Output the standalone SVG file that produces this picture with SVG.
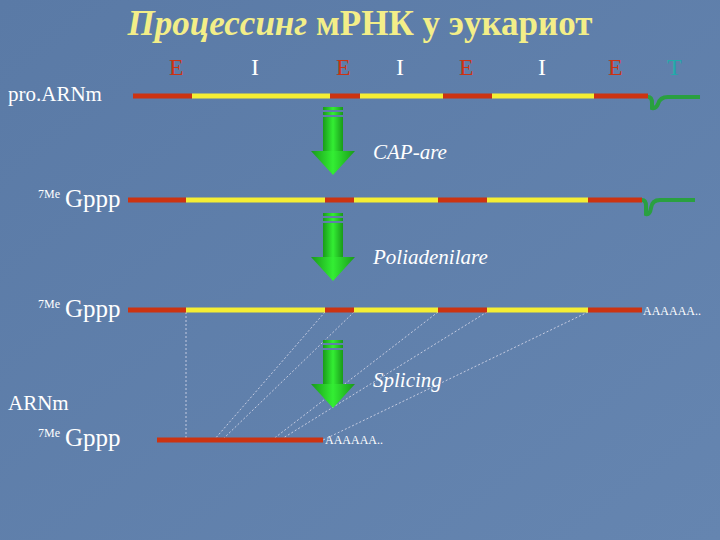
<svg xmlns="http://www.w3.org/2000/svg" width="720" height="540" viewBox="0 0 720 540">
<defs>
<linearGradient id="bg" x1="0" y1="0" x2="1" y2="1"><stop offset="0" stop-color="#5a7aa6"/><stop offset="1" stop-color="#6585b0"/></linearGradient>
<linearGradient id="ag" x1="0" y1="0" x2="1" y2="0"><stop offset="0" stop-color="#1a9a1a"/><stop offset="0.5" stop-color="#33ee33"/><stop offset="1" stop-color="#1a9a1a"/></linearGradient>
<g id="arrow">
<rect x="-10" y="0" width="20" height="3" fill="url(#ag)"/>
<rect x="-10" y="5" width="20" height="3" fill="url(#ag)"/>
<rect x="-10" y="10" width="20" height="34" fill="url(#ag)"/>
<polygon points="-22,44 22,44 0,68" fill="url(#ag)"/>
</g>
</defs>
<style>
.r{stroke:#cc3311;stroke-width:5}
.y{stroke:#f5ee33;stroke-width:5}
.g{stroke:#2aa040;stroke-width:4;fill:none}
.t{font-family:"Liberation Serif",serif;fill:#fff}
.lbl{font-family:"Liberation Serif",serif;font-style:italic;fill:#fff;font-size:21px}
.d{stroke:#dde;stroke-width:0.8;stroke-dasharray:2,2}
</style>
<rect width="720" height="540" fill="url(#bg)"/>
<text x="360" y="35" text-anchor="middle" font-family="Liberation Serif,serif" font-size="35" font-weight="bold" fill="#f3ee88"><tspan font-style="italic">Процессинг </tspan>мРНК у эукариот</text>
<g id="labels" font-family="Liberation Serif,serif" font-size="24">
<text x="169" y="75" fill="#cc3311">E</text>
<text x="251" y="75" fill="#fff">I</text>
<text x="336" y="75" fill="#cc3311">E</text>
<text x="396" y="75" fill="#fff">I</text>
<text x="459" y="75" fill="#cc3311">E</text>
<text x="538" y="75" fill="#fff">I</text>
<text x="608" y="75" fill="#cc3311">E</text>
<text x="667" y="75" fill="#22aaaa">T</text>
</g>
<text class="t" x="8" y="101" font-size="21">pro.ARNm</text>
<text class="t" x="38" y="198" font-size="12">7Me</text><text class="t" x="65" y="207" font-size="25">Gppp</text>
<text class="t" x="38" y="308" font-size="12">7Me</text><text class="t" x="65" y="317" font-size="25">Gppp</text>
<text class="t" x="8" y="410" font-size="21">ARNm</text>
<text class="t" x="38" y="437" font-size="12">7Me</text><text class="t" x="65" y="446" font-size="25">Gppp</text>
<text class="t" x="643" y="315" font-size="12">AAAAAA..</text>
<text class="t" x="325" y="444" font-size="12">AAAAAA..</text>
<text class="lbl" x="373" y="159">CAP-are</text>
<text class="lbl" x="373" y="264">Poliadenilare</text>
<text class="lbl" x="373" y="387">Splicing</text>
<g id="connectors">
<line class="d" x1="186" y1="312" x2="186" y2="440"/>
<line class="d" x1="325" y1="312" x2="214" y2="440"/>
<line class="d" x1="354" y1="312" x2="222" y2="440"/>
<line class="d" x1="438" y1="312" x2="272" y2="440"/>
<line class="d" x1="487" y1="312" x2="280" y2="440"/>
<line class="d" x1="588" y1="312" x2="323" y2="440"/>
</g>
<g id="row1">
<line class="r" x1="133" y1="96" x2="192" y2="96"/><line class="y" x1="192" y1="96" x2="330" y2="96"/>
<line class="r" x1="330" y1="96" x2="360" y2="96"/><line class="y" x1="360" y1="96" x2="443" y2="96"/>
<line class="r" x1="443" y1="96" x2="492" y2="96"/><line class="y" x1="492" y1="96" x2="594" y2="96"/>
<line class="r" x1="594" y1="96" x2="648" y2="96"/>
<path class="g" d="M648,97 Q652,97 652,103 L652,108 Q656,109 658,104 Q660,97 668,97 L700,97"/>
</g>
<g id="row2">
<line class="r" x1="128" y1="200" x2="186" y2="200"/><line class="y" x1="186" y1="200" x2="325" y2="200"/>
<line class="r" x1="325" y1="200" x2="354" y2="200"/><line class="y" x1="354" y1="200" x2="438" y2="200"/>
<line class="r" x1="438" y1="200" x2="487" y2="200"/><line class="y" x1="487" y1="200" x2="588" y2="200"/>
<line class="r" x1="588" y1="200" x2="642" y2="200"/>
<path class="g" d="M642,200 Q646,200 646,206 L646,214 Q650,215 651,208 Q652,200 660,200 L695,200"/>
</g>
<g id="row3">
<line class="r" x1="128" y1="310" x2="186" y2="310"/><line class="y" x1="186" y1="310" x2="325" y2="310"/>
<line class="r" x1="325" y1="310" x2="354" y2="310"/><line class="y" x1="354" y1="310" x2="438" y2="310"/>
<line class="r" x1="438" y1="310" x2="487" y2="310"/><line class="y" x1="487" y1="310" x2="588" y2="310"/>
<line class="r" x1="588" y1="310" x2="642" y2="310"/>
</g>
<g id="row4"><line class="r" x1="157" y1="440" x2="323" y2="440"/></g>
<g id="arrows">
<use href="#arrow" x="333" y="107"/>
<use href="#arrow" x="333" y="213"/>
<use href="#arrow" x="333" y="340"/>
</g>
</svg>
